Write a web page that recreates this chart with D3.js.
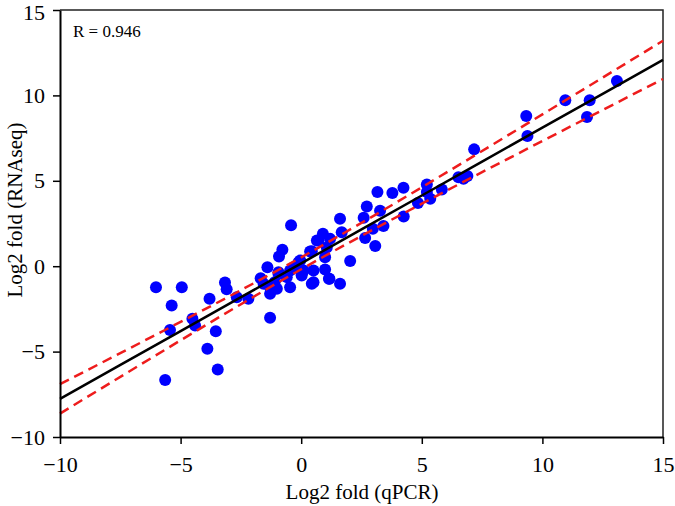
<!DOCTYPE html>
<html>
<head>
<meta charset="utf-8">
<script src="https://cdn.jsdelivr.net/npm/d3@7"></script>
<style>
body { margin: 0; background: #fff; }
svg text { font-family: "Liberation Serif", "Times New Roman", Times, serif; }
</style>
</head>
<body>
<div id="chart"></div>
<script>
var w = 675;
var h = 506;
var margin = {top: 10, right: 12, bottom: 69, left: 60};
var serif = "'Liberation Serif', 'Times New Roman', Times, serif";

// qPCR vs RNAseq log2 fold changes
var qpcr = [-6.02, -4.95, -5.37, -5.44, -5.64, -4.51, -4.40, -3.80, -3.54, -3.89,
    -3.46, -3.16, -3.09, -2.67, -2.19, -1.68, -1.56, -1.40, -1.29, -1.29,
    -1.29, -1.10, -1.01, -0.94, -0.94, -0.78, -0.92, -0.60, -0.46, -0.32,
    -0.46, -0.42, -0.11, 0.02, -0.04, 0.02, 0.10, 0.37, 0.44, 0.44,
    0.51, 0.51, 0.65, 0.72, 0.90, 0.99, 0.99, 1.06, 1.15, 1.20,
    1.17, 1.61, 1.61, 1.68, 2.03, 2.59, 2.65, 2.72, 2.97, 3.07,
    3.16, 3.27, 3.41, 3.78, 4.24, 4.25, 4.84, 5.21, 5.21, 5.35,
    5.83, 6.52, 6.73, 6.89, 7.17, 9.33, 9.38, 10.95, 11.85, 11.96, 13.09];
var rnaseq = [-1.23, -1.23, -2.30, -3.73, -6.66, -3.08, -3.47, -1.91, -3.81, -4.84,
    -6.05, -0.96, -1.35, -1.82, -1.91, -0.70, -1.03, -0.06, -1.23, -1.62,
    -3.02, -0.94, -1.32, -0.45, -0.35, 0.96, 0.57, -0.64, -1.23, -0.06,
    -0.25, 2.40, 0.23, -0.45, 0.33, -0.54, -0.25, 0.86, 0.88, -1.03,
    -0.25, -0.94, 1.50, 1.50, 1.90, 0.53, -0.20, 1.10, -0.74, 1.60,
    -0.74, -1.03, 2.78, 1.99, 0.30, 2.83, 1.65, 3.50, 2.19, 1.18,
    4.34, 3.24, 2.36, 4.28, 4.59, 2.91, 3.70, 4.79, 4.34, 3.95,
    4.49, 5.21, 5.12, 5.28, 6.84, 8.79, 7.62, 9.71, 8.73, 9.71, 10.84];

// regression line and 95% band, read at these x positions
var fitX = [-10, -5, 0, 5, 10, 15];
var fitY = [-7.77, -3.80, 0.17, 4.14, 8.11, 12.08];
var upperY = [-6.91, -3.26, 0.52, 4.62, 8.89, 13.20];
var lowerY = [-8.63, -4.34, -0.18, 3.66, 7.33, 10.96];

var ticks = [-10, -5, 0, 5, 10, 15];
var rLabel = "R = 0.946";

var svg = d3.select("#chart")
    .append("svg")
        .attr("width", w)
        .attr("height", h);

var x = d3.scaleLinear()
    .domain([-10, 15])
    .range([margin.left, w - margin.right]);

var y = d3.scaleLinear()
    .domain([-10, 15])
    .range([h - margin.bottom, margin.top]);

// frame on top and right
svg.append("path")
    .attr("d", "M" + x(-10) + "," + y(15) + "H" + x(15) + "V" + y(-10))
    .attr("fill", "none")
    .attr("stroke", "#222")
    .attr("stroke-width", 1.5);

// points
svg.selectAll("circle")
    .data(qpcr)
    .enter()
    .append("circle")
    .attr("cx", function(d){ return x(d); })
    .attr("cy", function(d, i){ return y(rnaseq[i]); })
    .attr("r", 6)
    .attr("fill", "#0000ff");

var line = d3.line()
    .x(function(d){ return x(d[0]); })
    .y(function(d){ return y(d[1]); })
    .curve(d3.curveNatural);

function pairs(ys) {
    return fitX.map(function(v, i){ return [v, ys[i]]; });
}

[upperY, lowerY].forEach(function(b){
    svg.append("path")
        .attr("d", line(pairs(b)))
        .attr("fill", "none")
        .attr("stroke", "#ee1c1c")
        .attr("stroke-width", 2.5)
        .attr("stroke-dasharray", "10,6");
});

svg.append("path")
    .attr("d", line(pairs(fitY)))
    .attr("fill", "none")
    .attr("stroke", "#000")
    .attr("stroke-width", 2.5);

// axes
var xAxis = svg.append("g")
    .attr("transform", "translate(0," + (h - margin.bottom) + ")")
    .call(d3.axisBottom(x).tickValues(ticks).tickSize(7).tickSizeOuter(0).tickPadding(12));

var yAxis = svg.append("g")
    .attr("transform", "translate(" + margin.left + ",0)")
    .call(d3.axisLeft(y).tickValues(ticks).tickSize(7).tickSizeOuter(0).tickPadding(8));

[xAxis, yAxis].forEach(function(a){
    a.attr("font-family", serif);
    a.select(".domain").attr("stroke", "#000").attr("stroke-width", 2);
    a.selectAll(".tick line").attr("stroke", "#000").attr("stroke-width", 1.5);
    a.selectAll(".tick text")
        .attr("fill", "#000")
        .attr("font-size", 22)
        .attr("font-family", serif);
});

// keep the top "15" inside the page
yAxis.selectAll(".tick text")
    .filter(function(d){ return d === 15; })
    .attr("dy", "0.45em");

svg.append("text")
    .attr("x", 73)
    .attr("y", 37)
    .attr("font-family", serif)
    .attr("font-size", 17)
    .text(rLabel);

svg.append("text")
    .attr("x", 362)
    .attr("y", 499)
    .attr("text-anchor", "middle")
    .attr("font-family", serif)
    .attr("font-size", 21)
    .text("Log2 fold (qPCR)");

svg.append("text")
    .attr("transform", "translate(22,210) rotate(-90)")
    .attr("text-anchor", "middle")
    .attr("font-family", serif)
    .attr("font-size", 21)
    .text("Log2 fold (RNAseq)");
</script>
</body>
</html>
